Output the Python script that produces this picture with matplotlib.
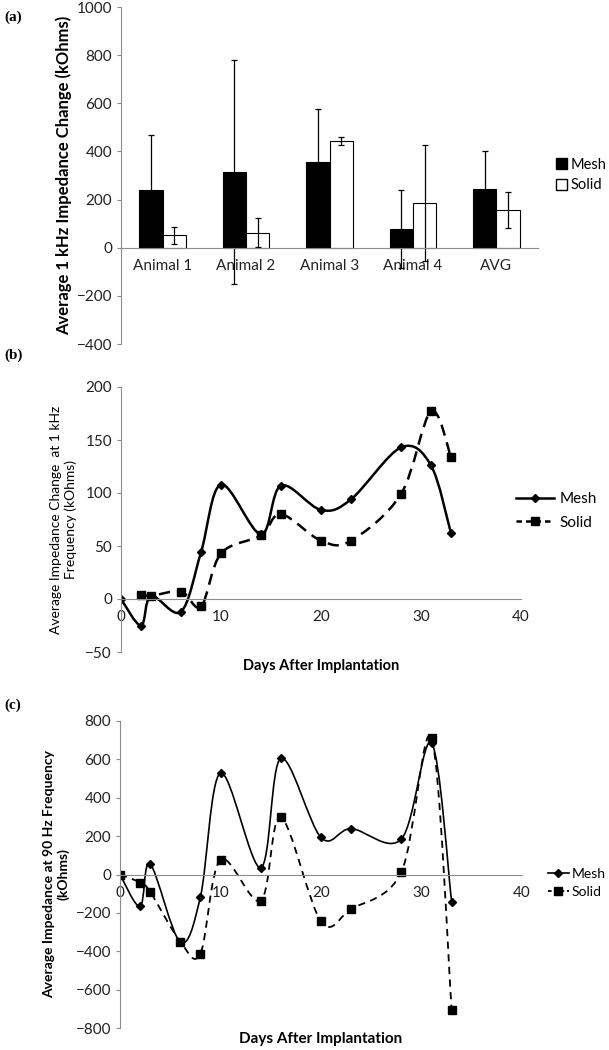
import numpy as np
import matplotlib
matplotlib.use("Agg")
import matplotlib.pyplot as plt
from matplotlib.path import Path
from matplotlib.patches import PathPatch, Patch
from matplotlib.lines import Line2D

plt.rcParams['font.family'] = ['Lato', 'DejaVu Sans']

# (a) bar chart
animals = ['Animal 1', 'Animal 2', 'Animal 3', 'Animal 4', 'AVG']
mesh_bar = [241, 316, 356, 79, 244]
mesh_err = [228, 465, 219, 162, 156]
solid_bar = [52, 63, 444, 186, 156]
solid_err = [35, 60, 17, 241, 74]

# (b) 1 kHz impedance change
days_mesh_b = [0, 2, 3, 6, 8, 10, 14, 16, 20, 23, 28, 31, 33]
mesh_b = [0, -25, 3, -12, 44, 108, 61, 107, 84, 94, 143, 126, 62]
days_solid_b = [2, 3, 6, 8, 10, 14, 16, 20, 23, 28, 31, 33]
solid_b = [4, 3, 7, -7, 43, 60, 80, 55, 55, 99, 177, 134]

# (c) 90 Hz impedance
days_c = [0, 2, 3, 6, 8, 10, 14, 16, 20, 23, 28, 31, 33]
mesh_c = [0, -166, 55, -352, -117, 529, 35, 605, 193, 239, 185, 686, -143]
solid_c = [0, -42, -90, -350, -412, 77, -137, 298, -244, -180, 14, 711, -705]

AXIS_GRAY = '#8c8c8c'
TICK_FS = 11


def smooth_path(x, y):
    # excel-like smoothed line: cubic bezier through each point
    pts = np.column_stack([x, y]).astype(float)
    verts = [pts[0]]
    codes = [Path.MOVETO]
    n = len(pts)
    for i in range(n - 1):
        p0 = pts[i - 1] if i > 0 else pts[i]
        p1 = pts[i]
        p2 = pts[i + 1]
        p3 = pts[i + 2] if i + 2 < n else pts[i + 1]
        verts += [p1 + (p2 - p0) / 6, p2 - (p3 - p1) / 6, p2]
        codes += [Path.CURVE4] * 3
    return Path(verts, codes)


def style_axes(ax):
    for s in ['top', 'right']:
        ax.spines[s].set_visible(False)
    ax.spines['left'].set_color(AXIS_GRAY)
    ax.spines['bottom'].set_color(AXIS_GRAY)
    ax.spines['bottom'].set_position(('data', 0))
    ax.tick_params(axis='y', length=3, color=AXIS_GRAY, labelsize=TICK_FS, labelcolor='#222222')
    ax.tick_params(axis='x', length=0, labelsize=TICK_FS, labelcolor='#222222', pad=8)


fig = plt.figure(figsize=(6.09, 10.5), dpi=100)

# ---------------- (a)
ax1 = fig.add_axes([121/609, 1-344/1050, (538-121)/609, (344-7)/1050])
pos = np.arange(len(animals))
w = 0.28
ax1.bar(pos - w/2, mesh_bar, w, color='black', edgecolor='black', lw=0.8,
        yerr=mesh_err, error_kw=dict(ecolor='black', elinewidth=0.9, capsize=2.5, capthick=0.9))
ax1.bar(pos + w/2, solid_bar, w, color='white', edgecolor='black', lw=0.8,
        yerr=solid_err, error_kw=dict(ecolor='black', elinewidth=0.9, capsize=2.5, capthick=0.9))
ax1.set_xlim(-0.5, len(animals) - 0.5)
ax1.set_ylim(-400, 1000)
ax1.set_yticks(range(-400, 1001, 200))
ax1.set_xticks(pos)
ax1.set_xticklabels(animals)
style_axes(ax1)
ax1.set_ylabel('Average 1 kHz Impedance Change (kOhms)', fontsize=12, fontweight='bold', labelpad=3)
ax1.legend(handles=[Patch(facecolor='black', edgecolor='black', label='Mesh'),
                    Patch(facecolor='white', edgecolor='black', label='Solid')],
           loc='center left', bbox_to_anchor=(549/609, 1-175/1050), bbox_transform=fig.transFigure,
           frameon=False, fontsize=10.5, handlelength=0.75, handleheight=0.75, handletextpad=0.2,
           labelspacing=0.45, borderpad=0)

# ---------------- (b)
ax2 = fig.add_axes([121/609, 1-652/1050, (521-121)/609, (652-387)/1050])
ax2.add_patch(PathPatch(smooth_path(days_mesh_b, mesh_b), fill=False, lw=1.8, color='black'))
ax2.add_patch(PathPatch(smooth_path(days_solid_b, solid_b), fill=False, lw=1.8, color='black',
                        ls=(0, (4.5, 2.8))))
ax2.plot(days_mesh_b, mesh_b, ls='none', marker='D', ms=4.5, color='black')
ax2.plot(days_solid_b, solid_b, ls='none', marker='s', ms=5.5, color='black')
ax2.set_xlim(0, 40)
ax2.set_ylim(-50, 200)
ax2.set_xticks(range(0, 41, 10))
ax2.set_yticks(range(-50, 201, 50))
style_axes(ax2)
ax2.set_ylabel('Average Impedance Change  at 1 kHz\nFrequency (kOhms)', fontsize=10, labelpad=6)
ax2.set_xlabel('Days After Implantation', fontsize=10.5, fontweight='bold')
ax2.xaxis.set_label_coords(0.5, -0.025)
ax2.legend(handles=[Line2D([], [], color='black', lw=1.8, marker='D', ms=4.5),
                    Line2D([], [], color='black', lw=1.8, marker='s', ms=5.5, ls=(0, (2.2, 1.6)))],
           labels=['Mesh', 'Solid'],
           loc='center left', bbox_to_anchor=(508/609, 1-511/1050), bbox_transform=fig.transFigure,
           frameon=False, fontsize=11, handlelength=2.5, handletextpad=0.4, labelspacing=0.6, borderpad=0)

# ---------------- (c)
ax3 = fig.add_axes([120/609, 1-1028/1050, (522-120)/609, (1028-721)/1050])
ax3.add_patch(PathPatch(smooth_path(days_c, mesh_c), fill=False, lw=1.2, color='black'))
ax3.add_patch(PathPatch(smooth_path(days_c, solid_c), fill=False, lw=1.3, color='black',
                        ls=(0, (4.0, 3.0))))
ax3.plot(days_c, mesh_c, ls='none', marker='D', ms=4.5, color='black')
ax3.plot(days_c, solid_c, ls='none', marker='s', ms=5.5, color='black')
ax3.set_xlim(0, 40)
ax3.set_ylim(-800, 800)
ax3.set_xticks(range(0, 41, 10))
ax3.set_yticks(range(-800, 801, 200))
style_axes(ax3)
ax3.set_ylabel('Average Impedance at 90 Hz Frequency\n(kOhms)', fontsize=10, fontweight='bold', labelpad=4)
ax3.set_xlabel('Days After Implantation', fontsize=11, fontweight='bold')
ax3.xaxis.set_label_coords(0.5, -0.012)
ax3.legend(handles=[Line2D([], [], color='black', lw=1.2, marker='D', ms=4.5),
                    Line2D([], [], color='black', lw=1.3, marker='s', ms=5.5, ls=(0, (2.0, 1.5)))],
           labels=['Mesh', 'Solid'],
           loc='center left', bbox_to_anchor=(541/609, 1-883/1050), bbox_transform=fig.transFigure,
           frameon=False, fontsize=10, handlelength=1.5, handletextpad=0.2, labelspacing=0.45, borderpad=0)

# panel letters
for lbl, yy in [('(a)', 17), ('(b)', 355), ('(c)', 705)]:
    fig.text(4/609, 1-yy/1050, lbl, family='Liberation Serif', fontweight='bold', fontsize=11, va='center')

fig.savefig('out.png', dpi=100)
